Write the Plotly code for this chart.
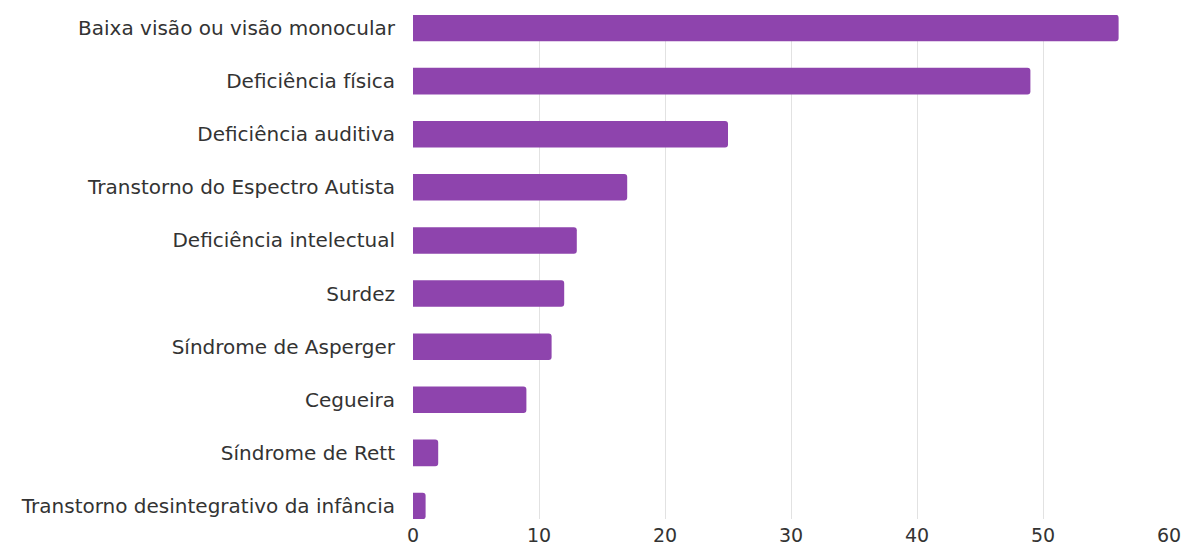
import plotly.graph_objects as go

categories = [
    "Baixa visão ou visão monocular",
    "Deficiência física",
    "Deficiência auditiva",
    "Transtorno do Espectro Autista",
    "Deficiência intelectual",
    "Surdez",
    "Síndrome de Asperger",
    "Cegueira",
    "Síndrome de Rett",
    "Transtorno desintegrativo da infância",
]
values = [56, 49, 25, 17, 13, 12, 11, 9, 2, 1]
x_ticks = [0, 10, 20, 30, 40, 50, 60]

positions = list(range(len(categories)))

fig = go.Figure(
    go.Bar(
        x=values,
        y=positions,
        orientation="h",
        width=0.5,
        marker=dict(color="#8E44AD", cornerradius=3, line=dict(width=0)),
        hoverinfo="x+text",
        text=categories,
        textposition="none",
    )
)

font_family = "DejaVu Sans, Lato, sans-serif"

fig.update_layout(
    width=1184,
    height=548,
    margin=dict(l=413, r=15, t=15, b=29),
    paper_bgcolor="white",
    plot_bgcolor="white",
    showlegend=False,
    font=dict(family=font_family, size=20, color="#333333"),
    xaxis=dict(
        range=[0, 60],
        tickvals=x_ticks,
        ticktext=[str(v) for v in x_ticks],
        showgrid=True,
        gridcolor="#e2e2e2",
        gridwidth=1,
        zeroline=False,
        showline=False,
        ticks="",
        tickfont=dict(size=19, color="#333333"),
        ticklabelstandoff=3,
        automargin=False,
    ),
    yaxis=dict(
        range=[len(categories) - 1 + 0.245, -0.245],
        tickvals=positions,
        ticktext=categories,
        showgrid=False,
        zeroline=False,
        showline=False,
        ticks="",
        tickfont=dict(size=20, color="#333333"),
        ticklabelstandoff=17,
        automargin=False,
    ),
)

fig.write_html("out.html")
